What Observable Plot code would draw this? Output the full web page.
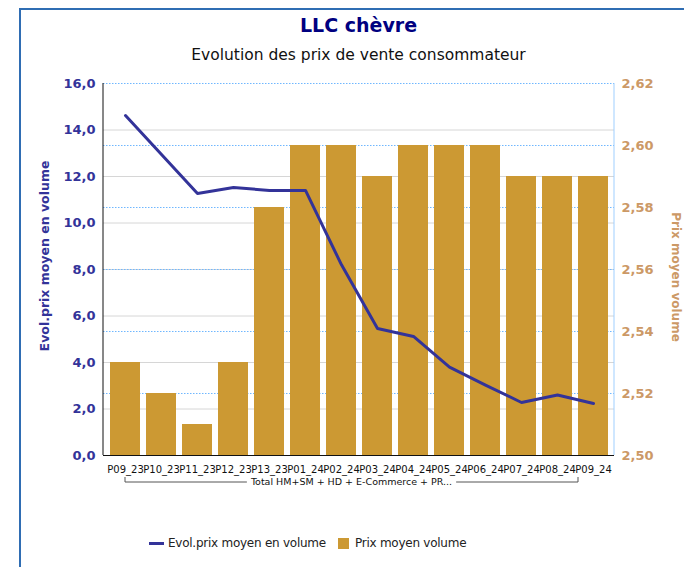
<!DOCTYPE html>
<html>
<head>
<meta charset="utf-8">
<script src="https://cdn.jsdelivr.net/npm/d3@7"></script>
<script src="https://cdn.jsdelivr.net/npm/@observablehq/plot@0.6"></script>
<style>
  html, body { margin: 0; padding: 0; background: #fff; overflow: hidden; }
  #wrap { position: relative; width: 684px; height: 567px; font-family: "DejaVu Sans", sans-serif; }
  .abs { position: absolute; }
  #chart svg { background: transparent !important; overflow: visible; }
</style>
</head>
<body>
<div id="wrap">
  <div class="abs" style="left:20px;top:8px;width:664px;height:2px;background:#2f6db3"></div>
  <div class="abs" style="left:19px;top:8px;width:2px;height:559px;background:#2f6db3"></div>
  <div class="abs" id="title" style="left:103px;width:511px;top:14px;text-align:center;font-weight:bold;font-size:19px;color:#000080">LLC chèvre</div>
  <div class="abs" id="subtitle" style="left:103px;width:511px;top:46px;text-align:center;font-size:15.5px;color:#111">Evolution des prix de vente consommateur</div>
  <div class="abs" id="chart" style="left:0;top:0"></div>
  <div class="abs" id="legend" style="left:149px;top:536px;font-size:12px;letter-spacing:-0.25px;color:#222;display:flex;align-items:center;white-space:nowrap">
    <span style="display:inline-block;width:15px;height:3px;background:#333399;margin-right:4px"></span>
    <span>Evol.prix moyen en volume</span>
    <span style="display:inline-block;width:11px;height:11px;background:#cc9933;margin-left:12px;margin-right:6px"></span>
    <span>Prix moyen volume</span>
  </div>
</div>
<script>
const categories = ["P09_23","P10_23","P11_23","P12_23","P13_23","P01_24","P02_24","P03_24","P04_24","P05_24","P06_24","P07_24","P08_24","P09_24"];
const evolPrix = [14.62, 12.95, 11.27, 11.53, 11.40, 11.40, 8.20, 5.46, 5.12, 3.80, 3.03, 2.28, 2.60, 2.24];
const prixMoyen = [2.53, 2.52, 2.51, 2.53, 2.58, 2.60, 2.60, 2.59, 2.60, 2.60, 2.60, 2.59, 2.59, 2.59];
const leftTicks = [0, 2, 4, 6, 8, 10, 12, 14, 16];
const rightTicks = [2.50, 2.52, 2.54, 2.56, 2.58, 2.60, 2.62];
const groupLabel = "Total HM+SM + HD + E-Commerce + PR...";

const leftDomain = [0, 16];
const rightDomain = [2.50, 2.62];
const toLeft = v => leftDomain[0] + (v - rightDomain[0]) / (rightDomain[1] - rightDomain[0]) * (leftDomain[1] - leftDomain[0]);

const data = categories.map((c, i) => ({cat: c, evol: evolPrix[i], prix: prixMoyen[i]}));
const fmt1 = d => d.toFixed(1).replace(".", ",");
const fmt2 = d => d.toFixed(2).replace(".", ",");

const plot = Plot.plot({
  width: 684,
  height: 500,
  marginTop: 83,
  marginBottom: 45,
  marginLeft: 103,
  marginRight: 70,
  style: {fontFamily: "DejaVu Sans, sans-serif", background: "transparent"},
  x: {domain: categories, paddingInner: 0.18, paddingOuter: 0.09, label: null},
  y: {domain: leftDomain, label: null},
  marks: [
    Plot.ruleY(leftTicks.filter(t => t > 0 && t < 16), {stroke: "#d6d6d6", strokeWidth: 1}),
    Plot.ruleY(rightTicks.filter(t => t > 2.5).map(toLeft), {stroke: "#6fb7ff", strokeWidth: 1, strokeDasharray: "1.5,1.5"}),
    Plot.barY(data, {x: "cat", y1: 0, y2: d => toLeft(d.prix), fill: "#cc9933"}),
    Plot.lineY(data, {x: "cat", y: "evol", stroke: "#333399", strokeWidth: 3}),
    Plot.axisY(leftTicks, {anchor: "left", tickSize: 0, tickPadding: 8, tickFormat: fmt1, fill: "#333399", fontWeight: "bold", fontSize: 13, label: null}),
    Plot.axisY(rightTicks.map(toLeft), {anchor: "right", tickSize: 0, tickPadding: 7, tickFormat: (d, i) => fmt2(rightTicks[i]), fill: "#cc9966", fontWeight: "bold", fontSize: 13, label: null}),
    Plot.axisX({tickSize: 0, tickPadding: 10, fontSize: 10, fill: "#111", label: null}),
    Plot.ruleY([0], {stroke: "#111"})
  ]
});
document.getElementById("chart").appendChild(plot);

const xs = plot.scale("x");
const ys = plot.scale("y");
const svg = d3.select(plot);
const x0 = xs.range[0], x1 = xs.range[1];
const yTop = ys.apply(16), yBot = ys.apply(0);
svg.append("line").attr("x1", x1).attr("x2", x1).attr("y1", yTop).attr("y2", yBot).attr("stroke", "#9fcfff");
svg.append("line").attr("x1", x0).attr("x2", x0).attr("y1", yTop).attr("y2", yBot).attr("stroke", "#111");

// group bracket
const bw = xs.bandwidth;
const bL = xs.apply(categories[0]) + bw / 2;
const bR = xs.apply(categories[categories.length - 1]);
const bY = yBot + 27;
const bracket = svg.append("g").attr("stroke", "#555").attr("fill", "none");
const gTxt = svg.append("text").attr("x", (bL + bR) / 2).attr("y", bY).attr("dy", "0.32em")
  .attr("text-anchor", "middle").attr("font-size", 9.5).attr("fill", "#111").attr("font-family", "DejaVu Sans, sans-serif")
  .text(groupLabel);
const tw = gTxt.node().getComputedTextLength();
const mid = (bL + bR) / 2;
bracket.append("path").attr("d", `M${bL},${bY - 5}V${bY}H${mid - tw / 2 - 4}`);
bracket.append("path").attr("d", `M${mid + tw / 2 + 4},${bY}H${bR}V${bY - 5}`);

// axis titles
svg.append("text").attr("transform", `translate(45,256) rotate(-90)`).attr("text-anchor", "middle").attr("dy", "0.35em")
  .attr("font-size", 12.5).attr("font-weight", "bold").attr("fill", "#333399").attr("font-family", "DejaVu Sans, sans-serif")
  .text("Evol.prix moyen en volume");
svg.append("text").attr("transform", `translate(676,277) rotate(90)`).attr("text-anchor", "middle").attr("dy", "0.35em")
  .attr("font-size", 12).attr("font-weight", "bold").attr("fill", "#cc9966").attr("font-family", "DejaVu Sans, sans-serif")
  .text("Prix moyen volume");
</script>
</body>
</html>
